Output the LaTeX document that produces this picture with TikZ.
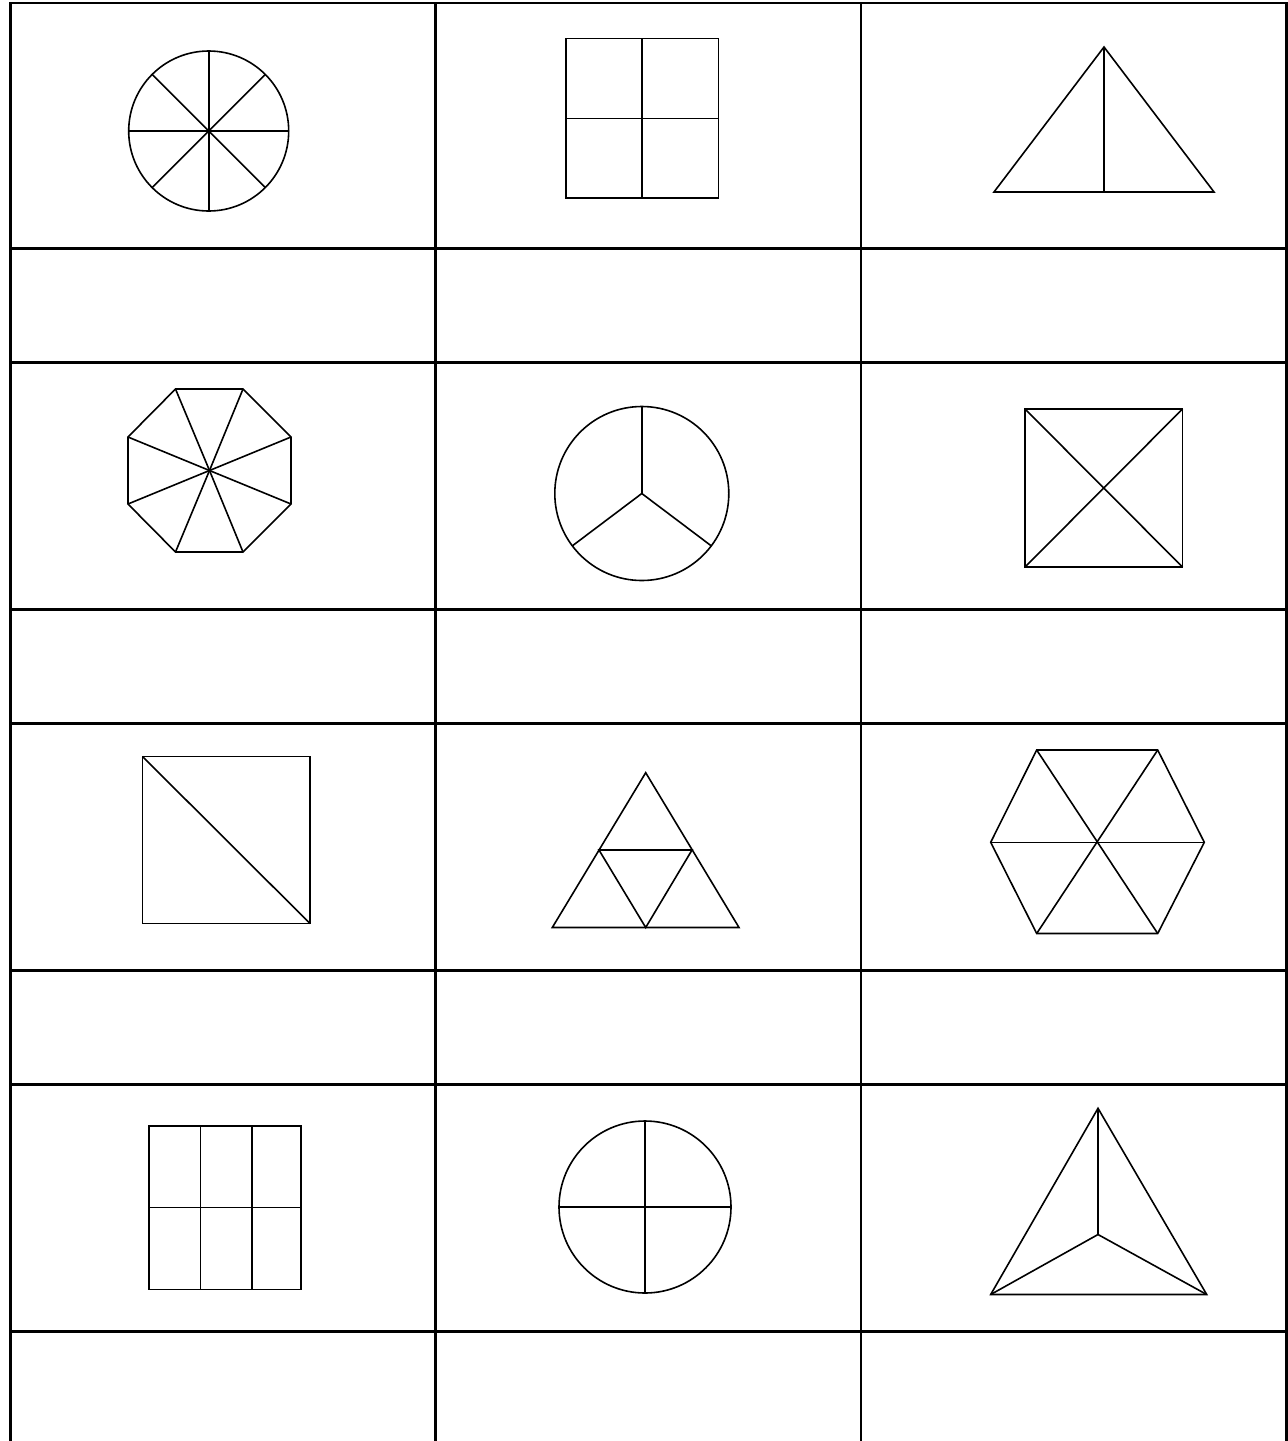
\documentclass[tikz,border=0pt]{standalone}
\begin{document}
\begin{tikzpicture}[x=1pt,y=-1pt,
  tabline/.style={line width=2.3pt,black},
  fig/.style={line width=1.6pt,black,line join=miter},
  thickfig/.style={line width=2.8pt,black}]
\useasboundingbox (0,0) rectangle (1288,1441);
\fill[white] (0,0) rectangle (1288,1441);
% table
\foreach \x in {10.5,435.5,861,1286.5}
  \draw[tabline] (\x,2) -- (\x,1441);
\foreach \y in {3,248.5,362.5,609.5,723.5,970.5,1084.5,1331.5}
  \draw[tabline] (9.4,\y) -- (1287.6,\y);
% row 1
\coordinate (c1) at (208.7,131);
\draw[fig] (c1) circle[radius=80];
\foreach \a in {0,45,...,315}
  \draw[fig] (c1) -- ++(\a:80);
\draw[fig] (566,38.3) rectangle (718.3,197.7);
\draw[fig] (642,38.3) -- (642,197.7);
\draw[fig] (566,118.3) -- (718.3,118.3);
\coordinate (t1a) at (1104,47);
\draw[fig] (t1a) -- (1214,192) -- (994,192) -- cycle;
\draw[thickfig] (t1a) -- (1104,192);
% row 2
\coordinate (o) at (209.5,470.5);
\draw[fig] (175.5,389) -- (243,389) -- (291,437) -- (291,504) -- (243,552) -- (175.5,552) -- (128,504) -- (128,437) -- cycle;
\foreach \p in {(175.5,389),(243,389),(291,437),(291,504),(243,552),(175.5,552),(128,504),(128,437)}
  \draw[fig] (o) -- \p;
\coordinate (c3) at (641.8,493.5);
\draw[fig] (c3) circle[radius=87];
\draw[fig] (c3) -- ++(-90:87);
\draw[fig] (c3) -- ++(37:87);
\draw[fig] (c3) -- ++(143:87);
\draw[fig] (1025,409) rectangle (1182.5,567);
\draw[fig] (1025,409) -- (1182.5,567);
\draw[fig] (1182.5,409) -- (1025,567);
% row 3
\draw[fig] (142.5,756.5) rectangle (310,923.5);
\draw[fig] (142.5,756.5) -- (310,923.5);
\draw[fig] (645.7,772.7) -- (739,927.5) -- (552.3,927.5) -- cycle;
\draw[fig] (599,850) -- (692,850) -- (645.7,927.5) -- cycle;
\coordinate (h) at (1097.5,842.3);
\draw[fig] (1036.7,750) -- (1157.7,750) -- (1204.3,842.3) -- (1157.7,933.5) -- (1036.7,933.5) -- (990.7,842.3) -- cycle;
\draw[fig] (1036.7,750) -- (1157.7,933.5);
\draw[fig] (1157.7,750) -- (1036.7,933.5);
\draw[fig] (990.7,842.3) -- (1204.3,842.3);
% row 4
\draw[fig] (149,1126) rectangle (301,1289.3);
\draw[fig] (200.5,1126) -- (200.5,1289.3);
\draw[fig] (251.7,1126) -- (251.7,1289.3);
\draw[fig] (149,1207.5) -- (301,1207.5);
\coordinate (c4) at (645,1207);
\draw[fig] (c4) circle[radius=86];
\draw[fig] (559,1207) -- (731,1207);
\draw[fig] (645,1121) -- (645,1293);
\coordinate (g) at (1098,1234.5);
\draw[fig] (1098,1108.3) -- (1206.7,1294.5) -- (990.7,1294.5) -- cycle;
\draw[fig] (g) -- (1098,1108.3);
\draw[fig] (g) -- (1206.7,1294.5);
\draw[fig] (g) -- (990.7,1294.5);
\end{tikzpicture}
\end{document}
